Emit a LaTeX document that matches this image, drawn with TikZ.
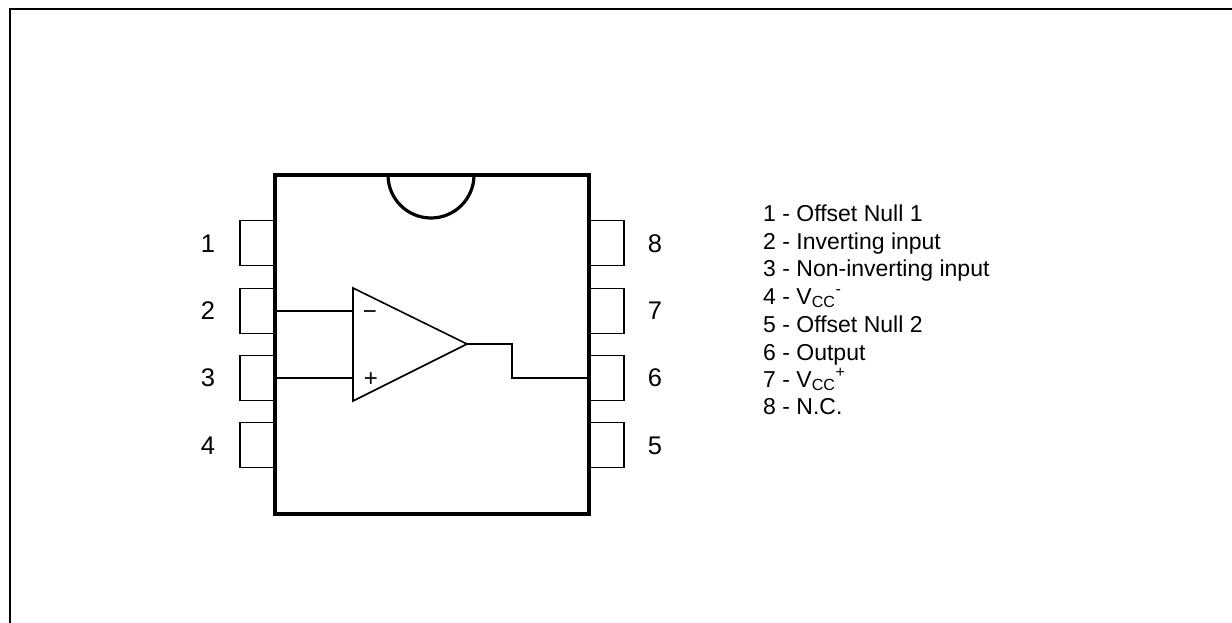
\documentclass[tikz,border=0pt]{standalone}
\usepackage{fontspec}
\setmainfont{Liberation Sans}
\tikzset{
    pinbox/.style={draw,line width=1.5pt,minimum width=34pt,minimum height=45pt,inner sep=0pt},
    pinnum/.style={font=\fontsize{25.5}{27}\selectfont,inner sep=0pt},
    sign/.style={font=\fontsize{24}{26}\selectfont,inner sep=0pt},
    legend/.style={font=\fontsize{23}{25}\selectfont,anchor=base west,inner sep=0pt},
    wire/.style={draw,line width=1.6pt},
}
\begin{document}
\begin{tikzpicture}[x=1pt,y=-1pt]
            \useasboundingbox (0,0) rectangle (1232,623);
            % Frame
            \coordinate (FA) at (10,623);
            \coordinate (FB) at (10,8.7);
            \coordinate (FC) at (1232,8.7);
            \draw[line width=1.8pt] (FA) -- (FB) -- (FC);
            % Pins
            \node[pinbox] (P1) at (257,243) {};
            \node[pinbox] (P2) at (257,311) {};
            \node[pinbox] (P3) at (257,378) {};
            \node[pinbox] (P4) at (257,445) {};
            \node[pinbox] (P8) at (607,243) {};
            \node[pinbox] (P7) at (607,311) {};
            \node[pinbox] (P6) at (607,378) {};
            \node[pinbox] (P5) at (607,445) {};
            % Package
            \node[draw,fill=white,line width=4.4pt,minimum width=314pt,minimum height=339pt,inner sep=0pt] (IC) at (432,344.7) {};
            \draw[line width=3.2pt] (388,175) arc[start angle=180,end angle=0,radius=43];
            % Pin numbers
            \node[pinnum] (N1) at (208,244) {1};
            \node[pinnum] (N2) at (208,311) {2};
            \node[pinnum] (N3) at (208,378) {3};
            \node[pinnum] (N4) at (208,446) {4};
            \node[pinnum] (N8) at (655,244) {8};
            \node[pinnum] (N7) at (655,311) {7};
            \node[pinnum] (N6) at (655,378) {6};
            \node[pinnum] (N5) at (655,446) {5};
            % Amplifier
            \coordinate (AT) at (353,288);
            \coordinate (AB) at (353,401);
            \coordinate (AO) at (467,344);
            \coordinate (AI) at (353,311);
            \coordinate (AN) at (353,378);
            \coordinate (KA) at (512,344);
            \coordinate (KB) at (512,378);
            \path[wire] (AT) -- (AO) -- (AB) -- cycle;
            \node[sign] (MI) at (370,315) {\textminus};
            \node[sign] (PL) at (371,380) {+};
            % Wires
            \path[wire] (P2.east) -- (AI);
            \path[wire] (P3.east) -- (AN);
            \path[wire] (AO) -- (KA) -- (KB) -- (P6.west);
            % Legend
            \node[legend] (L1) at (763,221) {1 - Offset Null 1};
            \node[legend] (L2) at (763,249) {2 - Inverting input};
            \node[legend] (L3) at (763,276) {3 - Non-inverting input};
            \node[legend] (L4) at (763,304) {4 - V\textsubscript{CC}\textsuperscript{-}};
            \node[legend] (L5) at (763,332) {5 - Offset Null 2};
            \node[legend] (L6) at (763,360) {6 - Output};
            \node[legend] (L7) at (763,387) {7 - V\textsubscript{CC}\textsuperscript{+}};
            \node[legend] (L8) at (763,414) {8 - N.C.};
        \end{tikzpicture}
\end{document}
